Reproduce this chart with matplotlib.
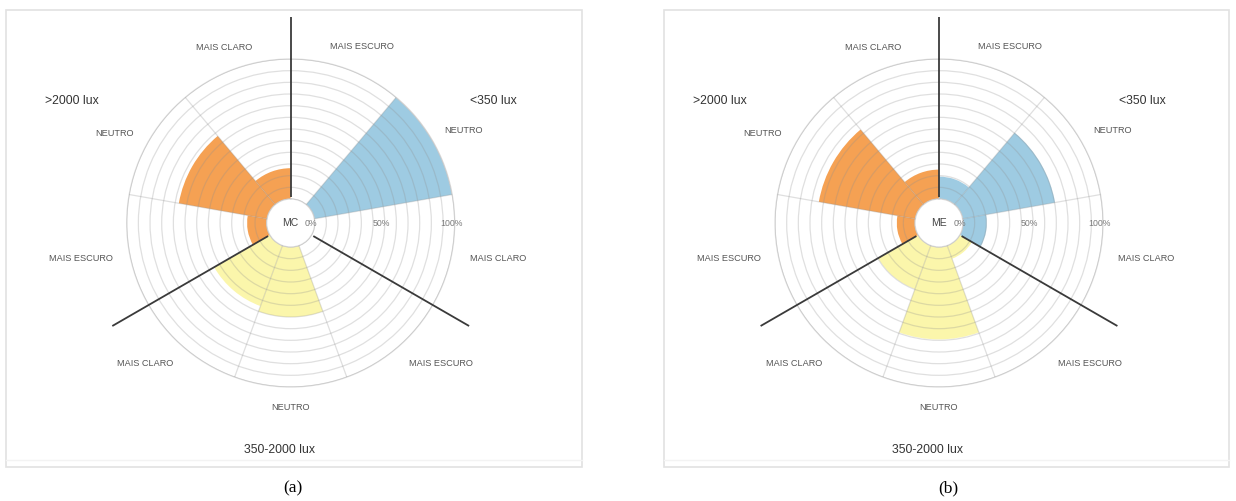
import numpy as np
import matplotlib
matplotlib.use("Agg")
import matplotlib.pyplot as plt
from matplotlib.patches import Rectangle

# ---------------- data ----------------
groups = ["<350 lux", "350-2000 lux", ">2000 lux"]
responses = ["MAIS ESCURO", "NEUTRO", "MAIS CLARO"]

# panel (a) - MC  (percent per response, per illuminance group)
mc_lt350 = [0, 100, 0]
mc_350_2000 = [0, 50, 46]
mc_gt2000 = [14, 64, 22]

# panel (b) - ME
me_lt350 = [16, 67, 17]
me_350_2000 = [10, 66, 33]
me_gt2000 = [13, 70, 21]

radial_ticks = [0, 50, 100]
radial_tick_labels = ["0%", "50%", "100%"]
panel_names = ["MC", "ME"]
captions = ["(a)", "(b)"]

# ---------------- styling ----------------
W, H = 1236, 501
BLUE = "#9ecbe2"
YELLOW = "#fbf6ab"
ORANGE = "#f5a153"
FONT = "Liberation Sans"
R_PX = 164          # outer circle radius in px
HOLE_PX = 24        # inner hole radius in px
RORIGIN = -100 * HOLE_PX / (R_PX - HOLE_PX)

# label placement (bearing deg, radius px) for the 9 category labels
cat_label_pos = [(22, 190), (62, 196), (99.6, 210),
                 (133, 206), (180, 184), (226, 202),
                 (260.5, 213), (297, 198), (339.4, 188)]
group_label_pos = [(203, -122), (-11, 227), (-219, -122)]  # dx, dy px

fig = plt.figure(figsize=(W / 100, H / 100), dpi=100)
fig.patch.set_facecolor("white")


def add_panel(cx, cy, series, center_label, caption, cap_x, frame):
    # frame around panel
    fx0, fy0, fx1, fy1 = frame
    fig.add_artist(Rectangle((fx0 / W, 1 - fy1 / H), (fx1 - fx0) / W, (fy1 - fy0) / H,
                             transform=fig.transFigure, fill=False,
                             edgecolor="#e2e2e2", lw=1.2))
    fig.add_artist(plt.Line2D([fx0 / W, fx1 / W], [1 - (fy1 - 7) / H] * 2,
                              transform=fig.transFigure, color="#f3f3f3", lw=1.0))

    ax = fig.add_axes([(cx - R_PX) / W, (H - cy - R_PX) / H, 2 * R_PX / W, 2 * R_PX / H],
                      projection="polar")
    ax.set_theta_zero_location("N")
    ax.set_theta_direction(-1)
    ax.set_facecolor("none")

    vals = []
    for s in series:
        vals.extend(s)
    colors = [BLUE] * 3 + [YELLOW] * 3 + [ORANGE] * 3
    theta = np.deg2rad(20 + 40 * np.arange(len(vals)))
    ax.bar(theta, vals, width=np.deg2rad(40), bottom=0, color=colors,
           edgecolor="none", align="center", zorder=1)

    # separating black lines between illuminance groups
    for b in [0, 120, 240]:
        ax.plot([np.deg2rad(b)] * 2, [1.5, 130], color="#3a3a3a", lw=1.3,
                clip_on=False, zorder=6, solid_capstyle="butt")

    ax.set_rorigin(RORIGIN)
    ax.set_ylim(0, 100)
    ax.set_yticks(np.linspace(0, 100, 13))
    ax.set_yticklabels([])
    ax.set_xticks(np.deg2rad([40, 80, 160, 200, 280, 320]))
    ax.set_xticklabels([])
    ax.tick_params(length=0)
    ax.grid(True, color="#8f8f8f", alpha=0.28, lw=0.9)
    ax.set_axisbelow(False)
    for name, sp in ax.spines.items():
        sp.set_color("#dcdcdc")
        sp.set_linewidth(0.9)

    # radial tick labels
    for v, lbl in zip(radial_ticks, radial_tick_labels):
        ax.text(np.deg2rad(90), v - 2.5, lbl, ha="center", va="center",
                fontsize=6.3, color="#7a7a7a", family=FONT, zorder=7)

    # center label
    ax.text(0.5, 0.5, center_label, transform=ax.transAxes, ha="center",
            va="center", fontsize=7.5, color="#444444", family=FONT, zorder=7)

    # category labels
    for (b, r), lbl in zip(cat_label_pos, responses * 3):
        dx = r * np.sin(np.deg2rad(b))
        dy = -r * np.cos(np.deg2rad(b))
        fig.text((cx + dx) / W, 1 - (cy + dy) / H, lbl, ha="center", va="center",
                 fontsize=6.6, color="#555555", family=FONT)

    # group labels
    for (dx, dy), lbl in zip(group_label_pos, groups):
        fig.text((cx + dx) / W, 1 - (cy + dy) / H, lbl, ha="center", va="center",
                 fontsize=8.8, color="#333333", family=FONT)

    fig.text(cap_x / W, 1 - 488 / H, caption, ha="center", va="center",
             fontsize=12.5, color="black", family="Liberation Serif")


add_panel(290.7, 223, [mc_lt350, mc_350_2000, mc_gt2000], panel_names[0],
          captions[0], 293, (6, 10, 582, 467))
add_panel(939, 223, [me_lt350, me_350_2000, me_gt2000], panel_names[1],
          captions[1], 948, (664, 10, 1229, 467))

fig.savefig("out.png", dpi=100, facecolor="white")
